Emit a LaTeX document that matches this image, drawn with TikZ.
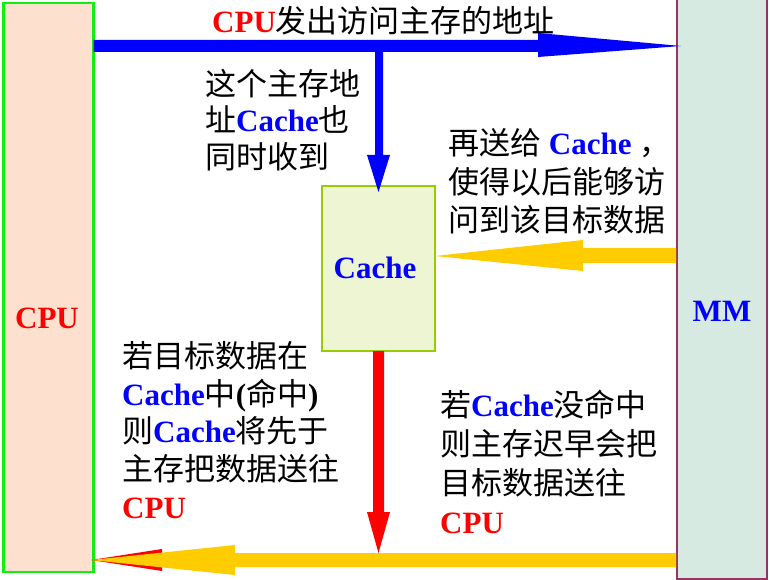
\documentclass[tikz,border=0pt]{standalone}
\usepackage{fontspec}
\setmainfont{Liberation Serif}
\newfontfamily\cjk{Noto Sans CJK SC}
\usetikzlibrary{calc}
\definecolor{cpufill}{HTML}{FDE1CE}
\definecolor{cpuline}{HTML}{11EE11}
\definecolor{mmfill}{HTML}{D6EAE1}
\definecolor{mmline}{HTML}{993366}
\definecolor{cachefill}{HTML}{EEF5D3}
\definecolor{cacheline}{HTML}{99CC00}
\definecolor{arrowyellow}{HTML}{FFCC00}
\newcommand\zh[1]{{\cjk #1}}
\newcommand\bC[1]{\textbf{\textcolor{blue}{#1}}}
\newcommand\rC[1]{\textbf{\textcolor{red}{#1}}}
\begin{document}
\begin{tikzpicture}[x=1pt,y=-1pt,
  unitbox/.style={rectangle,inner sep=0pt,outer sep=0pt},
  lbl/.style={inner sep=0pt,font=\bfseries\fontsize{31}{37}\selectfont},
  txt/.style={inner sep=0pt,anchor=base west,align=left},
]
\useasboundingbox (0,0) rectangle (769,580);
\fill[white] (0,0) rectangle (769,580);
% boxes
\node[unitbox,fill=cpufill,draw=cpuline,line width=2.5pt,minimum width=90pt,minimum height=569pt] (cpu) at (48.5,287.5) {};
\node[unitbox,fill=cachefill,draw=cacheline,line width=2pt,minimum width=113pt,minimum height=165pt] (cache) at (378.5,268.5) {};
\node[unitbox,fill=mmfill,draw=mmline,line width=2pt,minimum width=90pt,minimum height=583pt] (mm) at (722,287.5) {};
% labels
\node[lbl,text=red] (cpulabel) at (47,318) {CPU};
\node[lbl,text=blue] (cachelabel) at (375,268) {Cache};
\node[lbl,text=blue] (mmlabel) at (722,311) {MM};
% blue arrow CPU -> MM with branch to Cache
\fill[blue] (cpu.east |- 0,40) -- (538,40) -- (538,33) -- (681,46) -- (538,57) -- (538,52)
  -- (383,52) -- (383,155) -- (390,155) -- (378.5,192) -- (367,155) -- (375,155) -- (375,52)
  -- (cpu.east |- 0,52) -- cycle;
% yellow arrow MM -> Cache
\fill[arrowyellow] (676,248) -- (583,248) -- (583,240) -- (cache.east |- 0,256) -- (583,271) -- (583,263) -- (676,263) -- cycle;
% red arrow Cache -> bottom
\fill[red] (373,351) -- (384,351) -- (384,512) -- (390,512) -- (378.5,553) -- (367,512) -- (373,512) -- cycle;
\fill[red] (162,549) -- (91,560) -- (162,571) -- cycle;
% yellow arrow MM -> CPU
\fill[arrowyellow] (676,553) -- (235,553) -- (235,545) -- (91,560) -- (235,575) -- (235,567) -- (676,567) -- cycle;
% texts (anchor = baseline of the last line)
\node[txt,font=\fontsize{31}{36.5}\selectfont] (t1) at (212,32.5) {\rC{CPU}\zh{发出访问主存的地址}};
\node[txt,font=\fontsize{31}{36.5}\selectfont] (t2) at (205,168.5) {\zh{这个主存地}\\\zh{址}\bC{Cache}\zh{也}\\\zh{同时收到}};
\node[txt,font=\fontsize{31}{38.5}\selectfont] (t3) at (448,232) {\zh{再送给} \bC{Cache} \zh{，}\\\zh{使得以后能够访}\\\zh{问到该目标数据}};
\node[txt,font=\fontsize{31}{37.8}\selectfont] (t4) at (122,518.5) {\zh{若目标数据在}\\\bC{Cache}\zh{中}\textbf{(}\zh{命中}\textbf{)}\\\zh{则}\bC{Cache}\zh{将先于}\\\zh{主存把数据送往}\\\rC{CPU}};
\node[txt,font=\fontsize{31}{38.7}\selectfont] (t5) at (440,533) {\zh{若}\bC{Cache}\zh{没命中}\\\zh{则主存迟早会把}\\\zh{目标数据送往}\\\rC{CPU}};
\end{tikzpicture}
\end{document}
